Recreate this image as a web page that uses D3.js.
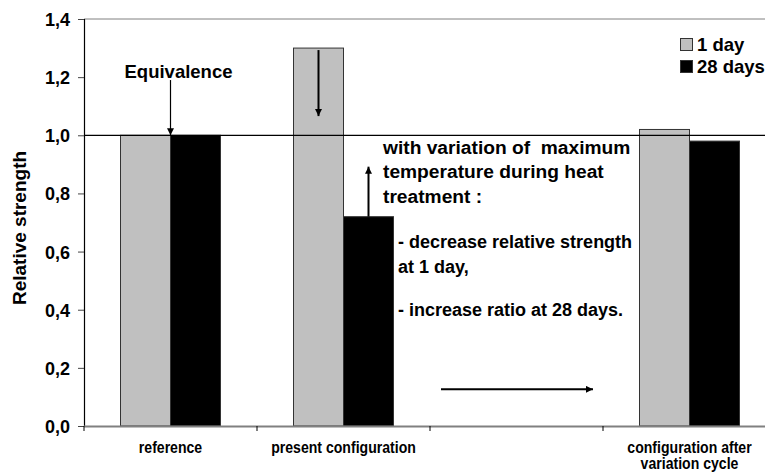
<!DOCTYPE html>
<html>
<head>
<meta charset="utf-8">
<script src="https://cdn.jsdelivr.net/npm/d3@7"></script>
<style>
  html, body { margin: 0; padding: 0; background: #fff; }
  svg text { font-family: "Liberation Sans", Arial, sans-serif; font-weight: bold; fill: #000; }
</style>
</head>
<body>
<svg id="chart" width="765" height="472"></svg>
<script>
// Relative strength per configuration, for both curing ages
const categories = ["reference", "present configuration", "gap", "configuration after variation cycle"];
const categoryLines = [["reference"], ["present configuration"], [], ["configuration after", "variation cycle"]];
const series = ["1 day", "28 days"];
const oneDay = [1.0, 1.3, null, 1.02];
const twentyEightDays = [1.0, 0.72, null, 0.98];
const yTicks = [0, 0.2, 0.4, 0.6, 0.8, 1.0, 1.2, 1.4];
const seriesColors = ["#c0c0c0", "#000000"];

const svg = d3.select("#chart");
const margin = { left: 84, top: 19, right: -11, bottom: 46 };
const W = 765, H = 472;

const x0 = d3.scaleBand().domain(categories).range([margin.left, W - margin.right]);
const bw = x0.bandwidth();
const x1 = d3.scaleBand().domain(series).range([bw * 0.211, bw * 0.789]);
const y = d3.scaleLinear().domain([0, 1.4]).range([H - margin.bottom, margin.top]);

const comma = d3.formatLocale({ decimal: ",", thousands: ".", grouping: [3], currency: ["", ""] }).format(".1f");

// Plot frame top edge
svg.append("line")
  .attr("x1", margin.left).attr("x2", W)
  .attr("y1", y(1.4)).attr("y2", y(1.4))
  .attr("stroke", "#808080").attr("stroke-width", 1);

// Bars
const rows = categories.map((c, i) => ({ c, vals: [oneDay[i], twentyEightDays[i]] }));
const groups = svg.append("g").selectAll("g").data(rows).join("g")
  .attr("transform", d => `translate(${x0(d.c)},0)`);
groups.selectAll("rect")
  .data(d => d.vals.map((v, k) => ({ s: series[k], v, k })).filter(e => e.v != null))
  .join("rect")
  .attr("x", e => x1(e.s))
  .attr("width", x1.bandwidth())
  .attr("y", e => y(e.v))
  .attr("height", e => y(0) - y(e.v))
  .attr("fill", e => seriesColors[e.k])
  .attr("stroke", "#333")
  .attr("stroke-width", 1);

// Equivalence reference line at 1,0
svg.append("line")
  .attr("x1", margin.left).attr("x2", W)
  .attr("y1", y(1.0)).attr("y2", y(1.0))
  .attr("stroke", "#000").attr("stroke-width", 1.2);

// Y axis
const yAxis = d3.axisLeft(y).tickValues(yTicks).tickFormat(comma).tickSize(6).tickPadding(8);
const gy = svg.append("g").attr("transform", `translate(${margin.left},0)`).call(yAxis);
gy.select(".domain").attr("stroke", "#000").attr("stroke-width", 1.2);
gy.selectAll(".tick line").attr("stroke", "#444");
gy.selectAll(".tick text").style("font-size", "18px").attr("dy", "0.36em");

// X axis
const xTickPos = categories.map(c => x0(c)).concat([x0(categories[3]) + bw]);
const gx = svg.append("g");
gx.append("line")
  .attr("x1", margin.left).attr("x2", W)
  .attr("y1", y(0) + 0.5).attr("y2", y(0) + 0.5)
  .attr("stroke", "#808080").attr("stroke-width", 2.2);
gx.selectAll("line.tk").data(xTickPos).join("line").attr("class", "tk")
  .attr("x1", d => d).attr("x2", d => d)
  .attr("y1", y(0)).attr("y2", y(0) + 5)
  .attr("stroke", "#000").attr("stroke-width", 1);
// Category labels are set in a narrowed face
gx.selectAll("text.cat").data(categories.map((c, i) => ({ c, lines: categoryLines[i] })))
  .join("text").attr("class", "cat")
  .attr("transform", d => `translate(${x0(d.c) + bw / 2},${y(0) + 27}) scale(0.88,1)`)
  .attr("text-anchor", "middle")
  .style("font-size", "16px")
  .selectAll("tspan").data(d => d.lines.map((l, j) => ({ l, j })))
  .join("tspan")
  .attr("x", 0)
  .attr("dy", t => t.j === 0 ? 0 : 16.5)
  .text(t => t.l);

// Y axis title
svg.append("text")
  .attr("transform", `translate(26,228) rotate(-90)`)
  .attr("text-anchor", "middle")
  .style("font-size", "19px")
  .text("Relative strength");

// Arrow helper
const defs = svg.append("defs");
defs.append("marker").attr("id", "head")
  .attr("viewBox", "0 0 10 10").attr("refX", 10).attr("refY", 5)
  .attr("markerWidth", 8).attr("markerHeight", 7).attr("markerUnits", "userSpaceOnUse")
  .attr("orient", "auto")
  .append("path").attr("d", "M0,0 L10,5 L0,10 Z").attr("fill", "#000");
function arrow(xa, ya, xb, yb) {
  svg.append("line")
    .attr("x1", xa).attr("y1", ya).attr("x2", xb).attr("y2", yb)
    .attr("stroke", "#000").attr("stroke-width", 2)
    .attr("marker-end", "url(#head)");
}

const refC = x0(categories[0]) + bw / 2;
const presGray = x0(categories[1]) + x1(series[0]) + x1.bandwidth() / 2;
const presBlack = x0(categories[1]) + x1(series[1]) + x1.bandwidth() / 2;

// Equivalence callout
svg.append("text").attr("x", refC + 8).attr("y", y(1.2) + 0.5)
  .attr("text-anchor", "middle").style("font-size", "18.5px").text("Equivalence");
svg.append("line").attr("x1", refC).attr("x2", refC).attr("y1", y(1.19)).attr("y2", y(1.0))
  .attr("stroke", "#000").attr("stroke-width", 1.2).attr("marker-end", "url(#head)");

// Trend arrows
arrow(presGray, y(oneDay[1]) + 2, presGray, y(1.066));
arrow(presBlack, y(twentyEightDays[1]), presBlack, y(0.892));
arrow(x0(categories[2]) + 11, y(0.126), x0(categories[2]) + 163, y(0.126));

// Explanation text
const noteX = x0(categories[1]) + 126;
const notes = [
  { t: "with variation of  maximum", x: noteX, y: 154, s: 19.2 },
  { t: "temperature during heat", x: noteX, y: 178, s: 19.2 },
  { t: "treatment :", x: noteX, y: 203, s: 19.2 },
  { t: "- decrease relative strength", x: noteX + 15, y: 248, s: 18 },
  { t: "at 1 day,", x: noteX + 15, y: 273, s: 18 },
  { t: "- increase ratio at 28 days.", x: noteX + 15, y: 316, s: 18 }
];
svg.append("g").selectAll("text").data(notes).join("text")
  .attr("x", d => d.x).attr("y", d => d.y)
  .attr("xml:space", "preserve")
  .style("white-space", "pre")
  .style("font-size", d => d.s + "px")
  .text(d => d.t);

// Legend
const lg = svg.append("g").attr("transform", "translate(680,38)");
series.forEach((s, i) => {
  lg.append("rect").attr("x", 0.5).attr("y", i * 22 + 0.5).attr("width", 12).attr("height", 12)
    .attr("fill", seriesColors[i]).attr("stroke", "#333").attr("stroke-width", 1);
  lg.append("text").attr("x", 17).attr("y", i * 22 + 12.8)
    .style("font-size", "18.5px").text(s);
});
</script>
</body>
</html>
